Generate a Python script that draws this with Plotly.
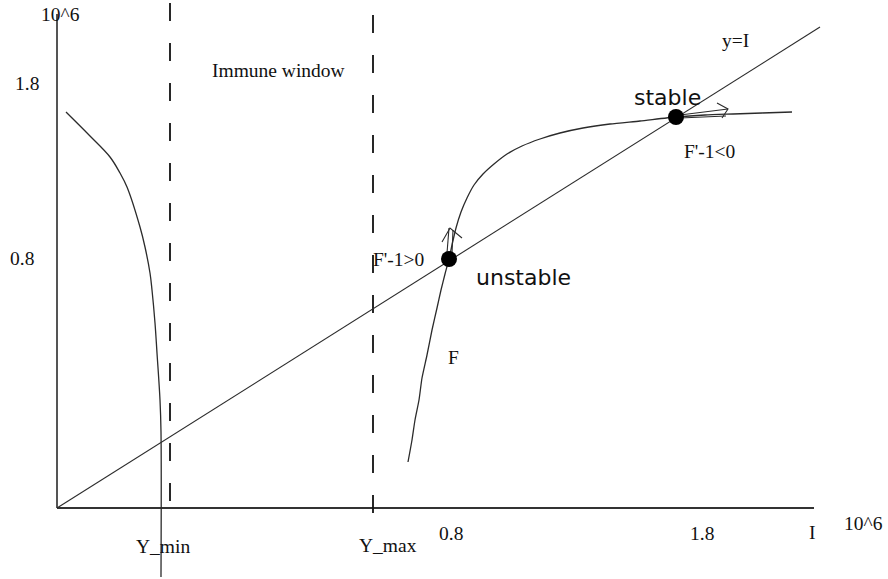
import plotly.graph_objects as go

# Schematic units: origin where the I axis meets the vertical axis, y upward.
# Descending branch on the left of the immune window
left_x = [9, 33, 53, 63, 70, 83, 88, 93, 95, 98, 100, 103, 104, 104]
left_y = [396, 372, 351, 335, 321, 281, 261, 235, 218, 185, 155, 108, 76, -69]

# Response curve F
f_x = [351, 355, 358, 362, 365, 370, 375, 380, 384, 388, 392, 395, 399,
       404, 410, 417, 426, 437, 450, 465, 483, 503, 526, 553, 583, 619,
       648, 676, 705, 735]
f_y = [46, 68, 88, 108, 130, 153, 178, 200, 218, 234, 249, 263, 280,
       296, 310, 323, 334, 344, 354, 362, 369, 375, 380, 384, 387, 391,
       393, 394, 395, 396]

# Diagonal y = I
diag_x = [0, 763]
diag_y = [0, 481]

# Fixed points (unstable, stable)
fixed_x = [392, 619]
fixed_y = [249, 391]

# Immune window boundaries
ymin_x, ymin_top, ymin_bot = 113, 505, -15
ymax_x, ymax_top, ymax_bot = 316, 493, -19

# Axis extents
x_axis_end = 757
y_axis_end = 494

# Tick labels
x_tick_pos = [394, 645]
x_tick_text = ["0.8", "1.8"]
y_tick_pos = [250, 425]
y_tick_text = ["0.8", "1.8"]

line_col = "#2b2b2b"
axis_col = "#555555"
serif = "Liberation Serif"
sans = "DejaVu Sans"

fig = go.Figure()

def seg(xs, ys, color=line_col, width=1.2, dash=None, shape="linear", smoothing=1.0):
    fig.add_trace(go.Scatter(x=xs, y=ys, mode="lines",
                             line=dict(color=color, width=width, dash=dash,
                                       shape=shape, smoothing=smoothing),
                             hoverinfo="skip", showlegend=False))

# axes
seg([0, 0], [0, y_axis_end], color=axis_col, width=2)
seg([0, x_axis_end], [0, 0], color="#333333", width=1.8)

# immune window boundaries
seg([ymin_x, ymin_x], [ymin_top, ymin_bot], color="#111111", width=1.8, dash="18px,22px")
seg([ymax_x, ymax_x], [ymax_top, ymax_bot], color="#111111", width=1.8, dash="18px,22px")

# curves
seg(diag_x, diag_y, width=1.1)
seg(left_x, left_y, width=1.3, shape="spline", smoothing=1.0)
seg(f_x, f_y, width=1.3, shape="spline", smoothing=0.6)

# direction arrows at the fixed points
ux, uy = fixed_x[0], fixed_y[0]
seg([ux - 2, ux], [uy + 6, uy + 31], width=1.1)
seg([ux + 3, ux + 4], [uy + 6, uy + 29], width=1.1)
seg([ux - 7, ux + 1, ux + 13], [uy + 17, uy + 31, uy + 21], width=1.1)

sx, sy = fixed_x[1], fixed_y[1]
seg([sx + 4, sx + 52], [sy + 2, sy + 8], width=1.1)
seg([sx + 4, sx + 50], [sy - 1, sy + 1], width=1.1)
seg([sx + 41, sx + 52, sx + 46], [sy + 14, sy + 8, sy - 1], width=1.1)

# fixed points
fig.add_trace(go.Scatter(x=fixed_x, y=fixed_y, mode="markers",
                         marker=dict(color="black", size=16),
                         hoverinfo="skip", showlegend=False))

def label(x, y, text, font=serif, size=19.5):
    fig.add_annotation(x=x, y=y, text=text, showarrow=False,
                       font=dict(family=font, size=size, color="#111111"),
                       xanchor="center", yanchor="middle")

for xp, t in zip(x_tick_pos, x_tick_text):
    label(xp, -25, t)
for yp, t in zip(y_tick_pos, y_tick_text):
    label(-30 if t == "1.8" else -35, yp, t)

label(106, -38, "Y_min")
label(331, -37, "Y_max")
label(755, -24, "I")
label(806, -15, "10^6")
label(3, 494, "10^6")
label(221, 438, "Immune window")
label(678, 468, "y=I")
label(652, 357, "F'-1<0")
label(341, 249, "F'-1>0")
label(396, 151, "F")
label(610, 411, "stable", font=sans, size=22)
label(466, 231, "unstable", font=sans, size=22)

fig.update_layout(
    width=888, height=579,
    margin=dict(l=0, r=0, t=0, b=0),
    paper_bgcolor="white", plot_bgcolor="white",
    xaxis=dict(range=[-57, 831], visible=False, fixedrange=True),
    yaxis=dict(range=[-71, 508], visible=False, fixedrange=True),
)

fig.write_html("out.html")
